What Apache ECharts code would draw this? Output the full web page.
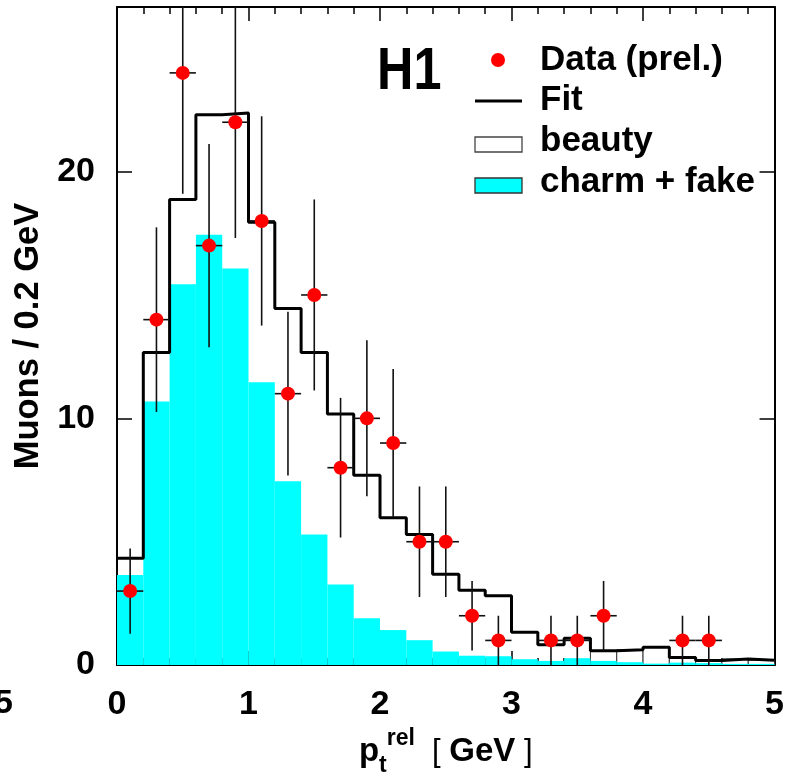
<!DOCTYPE html>
<html>
<head>
<meta charset="utf-8">
<script src="https://cdn.jsdelivr.net/npm/echarts@6/dist/echarts.min.js"></script>
<style>
html,body{margin:0;padding:0;background:#fff;}
#chart{width:787px;height:782px;}
</style>
</head>
<body>
<div id="chart"></div>
<script>
// ---- data ----
var binCenters = [0.1,0.3,0.5,0.7,0.9,1.1,1.3,1.5,1.7,1.9,2.1,2.3,2.5,2.7,2.9,3.1,3.3,3.5,3.7,3.9,4.1,4.3,4.5,4.7,4.9];
var binWidth = 0.2;
var charmFake = [3.65,10.68,15.43,17.44,16.07,11.46,7.45,5.29,3.27,1.90,1.42,1.01,0.55,0.38,0.36,0.24,0.17,0.28,0.17,0.12,0.06,0.10,0.08,0.05,0.05];
var fitTotal  = [4.33,12.67,18.87,22.30,22.37,17.95,14.45,12.67,10.18,7.69,5.97,5.29,3.68,3.03,2.81,1.33,0.82,1.09,0.58,0.62,0.72,0.31,0.19,0.25,0.20];
var dataX   = [0.1,0.3,0.5,0.7,0.9,1.1,1.3,1.5,1.7,1.9,2.1,2.3,2.5,2.7,2.9,3.3,3.5,3.7,4.3,4.5];
var dataY   = [3,14,24,17,22,18,11,15,8,10,9,5,5,2,1,1,1,2,1,1];
var dataErr = [1.73,3.74,4.90,4.12,4.69,4.24,3.32,3.87,2.83,3.16,3.00,2.24,2.24,1.41,1.00,1.00,1.00,1.41,1.00,1.00];
var xTicks = [0,1,2,3,4,5];
var yTicks = [0,10,20];
var legendNames = ['Data (prel.)','Fit','beauty','charm + fake'];

// ---- styles ----
var FONT = 'Liberation Sans, Arial, Helvetica, sans-serif';
var CYAN = '#00ffff';
var RED = '#ff0000';
var tailStart = 18; // bins where the beauty outline is visible

var chart = echarts.init(document.getElementById('chart'), null, {renderer:'canvas'});

var charmData = binCenters.map(function(c,i){ return [c, charmFake[i]]; });
var beautyTailData = binCenters.map(function(c,i){ return [c, fitTotal[i]]; }).filter(function(d,i){ return i >= tailStart; });
var fitLine = binCenters.map(function(c,i){ return [c - binWidth/2, fitTotal[i]]; });
fitLine.push([binCenters[binCenters.length-1] + binWidth/2, fitTotal[fitTotal.length-1]]);
var pointData = dataX.map(function(x,i){ return [x, dataY[i]]; });
var errData = dataX.map(function(x,i){ return [x, dataY[i], dataErr[i]]; });

function rectRender(fill, stroke, lw){
  return function(params, api){
    var c = api.value(0), v = api.value(1);
    var p0 = api.coord([c - binWidth/2, v]);
    var p1 = api.coord([c + binWidth/2, 0]);
    return {
      type:'rect',
      shape:{x:p0[0], y:p0[1], width:p1[0]-p0[0], height:p1[1]-p0[1]},
      style:{fill:fill, stroke:stroke, lineWidth:lw}
    };
  };
}

function errRender(params, api){
  var x = api.value(0), y = api.value(1), e = api.value(2);
  var top = api.coord([x, y + e]);
  var bot = api.coord([x, Math.max(0, y - e)]);
  var l = api.coord([x - binWidth/2, y]);
  var r = api.coord([x + binWidth/2, y]);
  var st = {stroke:'#111', lineWidth:1.6};
  return {
    type:'group',
    children:[
      {type:'line', shape:{x1:top[0], y1:top[1], x2:bot[0], y2:bot[1]}, style:st},
      {type:'line', shape:{x1:l[0], y1:l[1], x2:r[0], y2:r[1]}, style:st}
    ]
  };
}

var labelStyle = {color:'#000', fontFamily:FONT, fontWeight:'bold', fontSize:34};

var option = {
  backgroundColor:'#fff',
  animation:false,
  grid:{left:117, top:7, right:11, bottom:115, show:false, containLabel:false},
  xAxis:[
    {
      type:'value', min:xTicks[0], max:xTicks[xTicks.length-1], interval:1, position:'bottom',
      axisLine:{show:true, onZero:false, lineStyle:{color:'#000', width:2}},
      axisTick:{show:true, inside:true, length:14, lineStyle:{color:'#000', width:1.5}},
      minorTick:{show:true, splitNumber:5, length:7, lineStyle:{color:'#000', width:1.5}},
      splitLine:{show:false}, minorSplitLine:{show:false},
      axisLabel:Object.assign({margin:23, formatter:function(v){ return xTicks.indexOf(v) >= 0 ? String(v) : ''; }}, labelStyle),
      name:'{p|p}{t|t}{r|rel}{b|  [ }{g|GeV}{b| ]}',
      nameLocation:'middle', nameGap:57,
      nameTextStyle:{
        rich:{
          p:{fontFamily:FONT, fontWeight:'bold', fontSize:33, color:'#000', lineHeight:50, verticalAlign:'middle'},
          t:{fontFamily:FONT, fontWeight:'bold', fontSize:23, color:'#000', lineHeight:50, verticalAlign:'bottom'},
          r:{fontFamily:FONT, fontWeight:'bold', fontSize:23, color:'#000', lineHeight:50, verticalAlign:'top'},
          b:{fontFamily:FONT, fontWeight:'normal', fontSize:31, color:'#000', lineHeight:50, verticalAlign:'middle'},
          g:{fontFamily:FONT, fontWeight:'bold', fontSize:33, color:'#000', lineHeight:50, verticalAlign:'middle'}
        }
      }
    },
    {
      type:'value', min:xTicks[0], max:xTicks[xTicks.length-1], interval:1, position:'top',
      axisLine:{show:true, onZero:false, lineStyle:{color:'#000', width:2}},
      axisTick:{show:true, inside:true, length:14, lineStyle:{color:'#000', width:1.5}},
      minorTick:{show:true, splitNumber:5, length:7, lineStyle:{color:'#000', width:1.5}},
      splitLine:{show:false}, minorSplitLine:{show:false},
      axisLabel:{show:false}
    }
  ],
  yAxis:[
    {
      type:'value', min:0, max:26.67, interval:10, position:'left',
      axisLine:{show:true, onZero:false, lineStyle:{color:'#000', width:2}},
      axisTick:{show:true, inside:true, length:15, lineStyle:{color:'#000', width:1.5}},
      splitLine:{show:false},
      axisLabel:Object.assign({margin:22, showMaxLabel:false, formatter:function(v){ return yTicks.indexOf(v) >= 0 ? String(v) : ''; }}, labelStyle),
      name:'Muons / 0.2 GeV', nameLocation:'middle', nameGap:67,
      nameTextStyle:{fontFamily:FONT, fontWeight:'bold', fontSize:34.5, color:'#000'}
    },
    {
      type:'value', min:0, max:26.67, interval:10, position:'right',
      axisLine:{show:true, onZero:false, lineStyle:{color:'#000', width:2}},
      axisTick:{show:true, inside:true, length:15, lineStyle:{color:'#000', width:1.5}},
      splitLine:{show:false},
      axisLabel:{show:false}
    }
  ],
  series:[
    {
      name:'beauty', type:'custom', xAxisIndex:0, yAxisIndex:0, clip:true, z:2,
      renderItem:rectRender('#fff', '#333', 1), data:beautyTailData
    },
    {
      name:'charm + fake', type:'custom', xAxisIndex:0, yAxisIndex:0, clip:true, z:3,
      renderItem:rectRender(CYAN, null, 0), data:charmData
    },
    {
      name:'Fit', type:'line', xAxisIndex:0, yAxisIndex:0, step:'end', showSymbol:false, symbol:'none', z:4,
      lineStyle:{color:'#000', width:3}, data:fitLine, clip:true
    },
    {
      name:'errors', type:'custom', xAxisIndex:0, yAxisIndex:0, clip:true, z:5,
      renderItem:errRender, data:errData
    },
    {
      name:'Data (prel.)', type:'scatter', xAxisIndex:0, yAxisIndex:0, z:6,
      symbol:'circle', symbolSize:14, itemStyle:{color:RED, opacity:1}, data:pointData
    }
  ],
  graphic:[
    {type:'text', x:13, y:704, style:{text:'5', fill:'#000', font:'bold 34px '+FONT, align:'right', verticalAlign:'middle'}},
    {type:'text', x:377, y:72, scaleX:0.84, style:{text:'H1', fill:'#000', font:'bold 60px '+FONT, align:'left', verticalAlign:'middle'}},
    {type:'circle', shape:{cx:498, cy:60, r:7}, style:{fill:RED}},
    {type:'line', shape:{x1:475, y1:101, x2:522, y2:101}, style:{stroke:'#000', lineWidth:3}},
    {type:'rect', shape:{x:475, y:137, width:47, height:15}, style:{fill:'#fff', stroke:'#444', lineWidth:1.3}},
    {type:'rect', shape:{x:475, y:178, width:47, height:15}, style:{fill:CYAN, stroke:'#333', lineWidth:1.3}},
    {type:'text', x:540, y:60, style:{text:legendNames[0], fill:'#000', font:'bold 35px '+FONT, verticalAlign:'middle'}},
    {type:'text', x:540, y:100, style:{text:legendNames[1], fill:'#000', font:'bold 35px '+FONT, verticalAlign:'middle'}},
    {type:'text', x:540, y:141, style:{text:legendNames[2], fill:'#000', font:'bold 35px '+FONT, verticalAlign:'middle'}},
    {type:'text', x:540, y:182, style:{text:legendNames[3], fill:'#000', font:'bold 35px '+FONT, verticalAlign:'middle'}}
  ]
};
chart.setOption(option);
</script>
</body>
</html>
